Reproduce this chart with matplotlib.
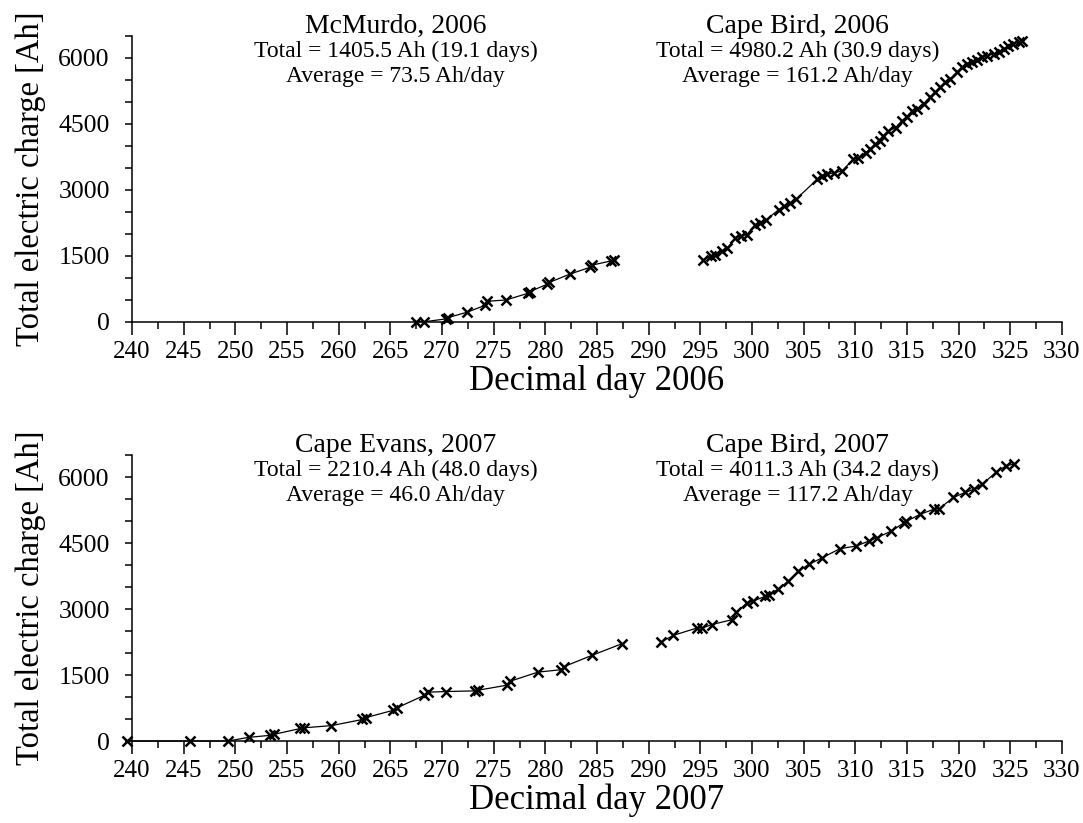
import numpy as np
import matplotlib
matplotlib.use("Agg")
import matplotlib.pyplot as plt
from matplotlib.ticker import MultipleLocator

plt.rcParams['font.family'] = ['Liberation Serif', 'DejaVu Serif']

# 2006 season
mcm06_day = [267.5, 268.3, 270.4, 270.6, 272.4, 274.2, 274.4, 276.2, 278.3, 278.5,
             280.2, 280.4, 282.4, 284.3, 284.5, 286.4, 286.6]
mcm06_ah = [0, 5, 70, 100, 220, 380, 470, 500, 650, 690,
            860, 900, 1090, 1240, 1290, 1390, 1405]

cb06_day = [295.3, 296.0, 296.4, 297.1, 297.6, 298.4, 298.9, 299.5, 300.3, 300.8,
            301.4, 302.6, 303.1, 303.7, 304.3, 306.3, 306.8, 307.3, 307.9, 308.7,
            309.8, 310.3, 311.0, 311.4, 311.9, 312.4, 312.7, 313.2, 313.9, 314.5,
            315.0, 315.5, 316.0, 316.6, 317.2, 317.7, 318.2, 318.7, 319.2, 319.8,
            320.3, 320.8, 321.3, 321.8, 322.3, 322.7, 323.4, 323.9, 324.4, 324.8,
            325.3, 325.8, 326.1]
cb06_ah = [1414, 1490, 1528, 1604, 1680, 1909, 1946, 1985, 2213, 2251,
           2327, 2555, 2631, 2707, 2798, 3239, 3315, 3353, 3392, 3430,
           3695, 3734, 3848, 3923, 4037, 4113, 4230, 4341, 4417, 4569,
           4669, 4797, 4836, 4950, 5102, 5216, 5330, 5444, 5520, 5672,
           5786, 5862, 5900, 5961, 6014, 6052, 6090, 6128, 6204, 6280,
           6318, 6356, 6394]

# 2007 season
ce07_day = [239.5, 245.6, 249.3, 251.3, 253.4, 253.7, 256.3, 256.6, 259.3, 262.3,
            262.6, 265.3, 265.6, 268.3, 268.6, 270.4, 273.2, 273.5, 276.3, 276.6,
            279.3, 281.5, 281.8, 284.5, 287.4]
ce07_ah = [0, 0, 0, 84, 130, 150, 285, 300, 350, 490,
           530, 700, 750, 1040, 1110, 1125, 1140, 1155, 1270, 1360,
           1567, 1620, 1690, 1946, 2210]

cb07_day = [291.2, 292.4, 294.7, 295.2, 296.1, 298.1, 298.5, 299.5, 300.1, 301.3,
            301.6, 302.5, 303.5, 304.5, 305.5, 306.8, 308.5, 310.1, 311.3, 312.1,
            313.5, 314.7, 314.9, 316.3, 317.6, 318.1, 319.5, 320.6, 321.5, 322.3,
            323.6, 324.6, 325.4]
cb07_ah = [2251, 2403, 2570, 2570, 2646, 2760, 2927, 3140, 3178, 3292,
           3330, 3444, 3634, 3862, 4014, 4166, 4371, 4432, 4546, 4622,
           4774, 4960, 4990, 5155, 5269, 5280, 5535, 5649, 5725, 5839,
           6105, 6257, 6296]

panels = [
    ("Decimal day 2006",
     [(mcm06_day, mcm06_ah, "McMurdo, 2006", "Total = 1405.5 Ah (19.1 days)", "Average = 73.5 Ah/day", 265.5),
      (cb06_day, cb06_ah, "Cape Bird, 2006", "Total = 4980.2 Ah (30.9 days)", "Average = 161.2 Ah/day", 304.4)]),
    ("Decimal day 2007",
     [(ce07_day, ce07_ah, "Cape Evans, 2007", "Total = 2210.4 Ah (48.0 days)", "Average = 46.0 Ah/day", 265.5),
      (cb07_day, cb07_ah, "Cape Bird, 2007", "Total = 4011.3 Ah (34.2 days)", "Average = 117.2 Ah/day", 304.4)]),
]

fig = plt.figure(figsize=(10.83, 8.23), dpi=100)
rects = [[0.1219, 0.6088, 0.8587, 0.3475], [0.1219, 0.0996, 0.8587, 0.3475]]

for rect, (xlab, series) in zip(rects, panels):
    ax = fig.add_axes(rect)
    for day, ah, title, tot, avg, xc in series:
        ax.plot(day, ah, '-', color='black', lw=0.9, marker='x', ms=6.5, mew=1.8,
                clip_on=False, zorder=3)
        ax.text(xc, 6720, title, ha='center', va='center', fontsize=20)
        ax.text(xc, 6140, tot, ha='center', va='center', fontsize=17)
        ax.text(xc, 5590, avg, ha='center', va='center', fontsize=17)
    ax.set_xlim(240, 330)
    ax.set_ylim(0, 6500)
    ax.xaxis.set_major_locator(MultipleLocator(5))
    ax.xaxis.set_minor_locator(MultipleLocator(2.5))
    ax.yaxis.set_major_locator(MultipleLocator(1500))
    ax.yaxis.set_minor_locator(MultipleLocator(500))
    for s in ['top', 'right']:
        ax.spines[s].set_visible(False)
    for s in ['left', 'bottom']:
        ax.spines[s].set_linewidth(1.1)
    ax.tick_params(axis='x', which='major', length=9, width=1.1, labelsize=18, pad=5)
    ax.tick_params(axis='x', which='minor', length=5, width=1.1)
    ax.tick_params(axis='y', which='both', length=5, width=1.1, labelsize=18.5, pad=11)
    ax.set_xlabel(xlab, fontsize=25, labelpad=1)
    ax.set_ylabel("Total electric charge [Ah]", fontsize=23.5, labelpad=9)

fig.savefig("out.png", dpi=100)
